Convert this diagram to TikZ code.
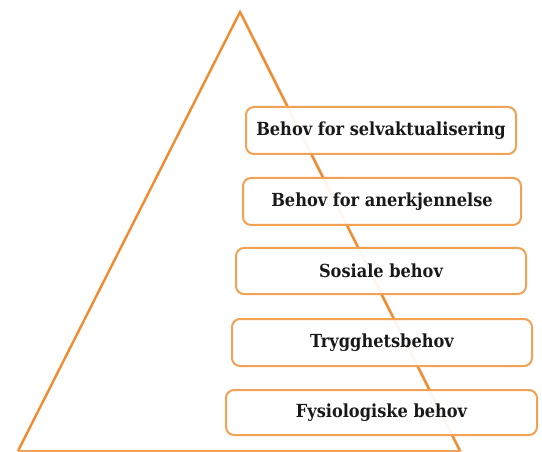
\documentclass[tikz,border=0pt]{standalone}
\usepackage{fontspec}
\setmainfont{DejaVu Serif Condensed}
\usepackage{tikz}
\definecolor{lineorange}{HTML}{F28A2E}
\definecolor{boxorange}{HTML}{F2A255}
\tikzset{
  needbox/.style={draw=boxorange, line width=2pt, rounded corners=8pt,
    fill=white, fill opacity=0.92, text opacity=1, inner sep=0pt,
    font=\fontsize{18}{21}\selectfont\bfseries, text=black!90},
  pyramid/.style={draw=lineorange, line width=2.4pt, line join=miter}
}
\begin{document}
\begin{tikzpicture}[x=1pt, y=-1pt]
  \useasboundingbox (0,0) rectangle (542,452);
  % pyramid outline with a faint shadow
  \coordinate (apex) at (240,12);
  \coordinate (bl) at (18,451);
  \coordinate (br) at (460,451);
  \draw[black!12, line width=2pt] ([xshift=2pt,yshift=-2pt]apex) -- ([xshift=2pt,yshift=-2pt]br);
  \draw[pyramid] (bl) -- (apex) -- (br);
  \draw[lineorange!80, line width=2.4pt] (bl) -- (br);
  % the five levels of needs
  \node[needbox, minimum width=270pt, minimum height=47pt] (n5) at (381,130.5) {Behov for selvaktualisering};
  \node[needbox, minimum width=278pt, minimum height=47pt] (n4) at (382,201.5) {Behov for anerkjennelse};
  \node[needbox, minimum width=290pt, minimum height=46pt] (n3) at (381,271) {Sosiale behov};
  \node[needbox, minimum width=300pt, minimum height=47pt] (n2) at (382,342.5) {Trygghetsbehov};
  \node[needbox, minimum width=311pt, minimum height=45pt] (n1) at (381.5,412.5) {Fysiologiske behov};
\end{tikzpicture}
\end{document}
